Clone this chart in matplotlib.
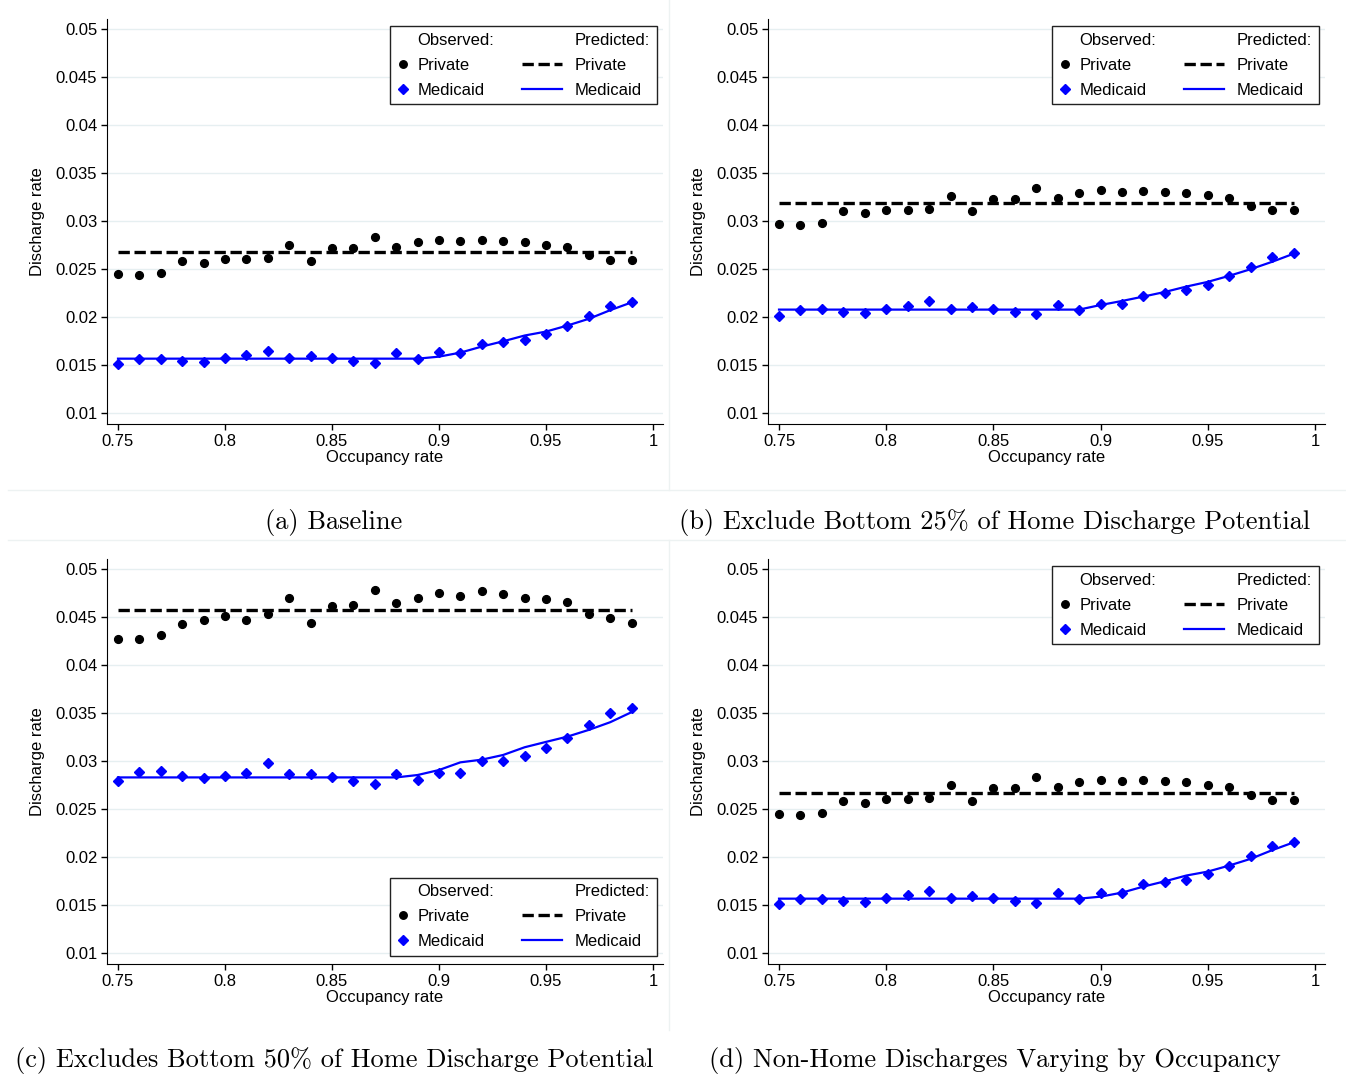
import numpy as np
import matplotlib
matplotlib.use('Agg')
import matplotlib.pyplot as plt
from matplotlib.lines import Line2D
from matplotlib.legend_handler import HandlerLine2D
from matplotlib.ticker import FuncFormatter

plt.rcParams['font.family'] = ['Liberation Sans', 'DejaVu Sans']

occ = [0.75, 0.76, 0.77, 0.78, 0.79, 0.80, 0.81, 0.82, 0.83, 0.84, 0.85, 0.86, 0.87,
       0.88, 0.89, 0.90, 0.91, 0.92, 0.93, 0.94, 0.95, 0.96, 0.97, 0.98, 0.99]

# (a) baseline
a_priv = [0.02451, 0.02437, 0.02462, 0.02587, 0.02563, 0.02601, 0.02601, 0.02615, 0.02747,
          0.02587, 0.02716, 0.02716, 0.02831, 0.02726, 0.02779, 0.02803, 0.02789, 0.02800,
          0.02789, 0.02782, 0.02754, 0.02726, 0.02643, 0.02598, 0.02594]
a_priv_hat = 0.02674
a_med = [0.01507, 0.01559, 0.01563, 0.01545, 0.01531, 0.01573, 0.01601, 0.01650, 0.01573,
         0.01594, 0.01573, 0.01545, 0.01517, 0.01622, 0.01563, 0.01632, 0.01625, 0.01716,
         0.01737, 0.01765, 0.01824, 0.01911, 0.02009, 0.02110, 0.02155]
a_med_hat = [0.01566, 0.01566, 0.01566, 0.01566, 0.01566, 0.01566, 0.01566, 0.01566, 0.01566,
             0.01566, 0.01566, 0.01566, 0.01566, 0.01566, 0.01566, 0.01587, 0.01629, 0.01692,
             0.01747, 0.01807, 0.01848, 0.01911, 0.01981, 0.02071, 0.02152]

# (b) exclude bottom 25%
b_priv = [0.02969, 0.02955, 0.02979, 0.03105, 0.03080, 0.03118, 0.03118, 0.03125, 0.03265,
          0.03105, 0.03230, 0.03230, 0.03348, 0.03240, 0.03293, 0.03321, 0.03303, 0.03314,
          0.03303, 0.03296, 0.03268, 0.03244, 0.03160, 0.03118, 0.03111]
b_priv_hat = 0.03188
b_med = [0.02014, 0.02070, 0.02080, 0.02056, 0.02045, 0.02087, 0.02112, 0.02164, 0.02087,
         0.02101, 0.02084, 0.02056, 0.02028, 0.02129, 0.02073, 0.02136, 0.02132, 0.02223,
         0.02247, 0.02279, 0.02338, 0.02422, 0.02519, 0.02620, 0.02662]
b_med_hat = [0.02077, 0.02077, 0.02077, 0.02077, 0.02077, 0.02077, 0.02077, 0.02077, 0.02077,
             0.02077, 0.02077, 0.02077, 0.02077, 0.02077, 0.02077, 0.02125, 0.02167, 0.02213,
             0.02261, 0.02317, 0.02366, 0.02429, 0.02498, 0.02575, 0.02659]

# (c) exclude bottom 50%
c_priv = [0.04267, 0.04274, 0.04312, 0.04427, 0.04469, 0.04510, 0.04472, 0.04535, 0.04699,
          0.04437, 0.04615, 0.04629, 0.04786, 0.04646, 0.04695, 0.04754, 0.04720, 0.04768,
          0.04744, 0.04702, 0.04685, 0.04657, 0.04531, 0.04493, 0.04441]
c_priv_hat = 0.04573
c_med = [0.02794, 0.02885, 0.02899, 0.02840, 0.02826, 0.02840, 0.02878, 0.02976, 0.02861,
         0.02861, 0.02836, 0.02791, 0.02760, 0.02864, 0.02805, 0.02875, 0.02871, 0.02997,
         0.03003, 0.03049, 0.03136, 0.03244, 0.03380, 0.03495, 0.03557]
c_med_hat = [0.02829, 0.02829, 0.02829, 0.02829, 0.02829, 0.02829, 0.02829, 0.02829, 0.02829,
             0.02829, 0.02829, 0.02829, 0.02829, 0.02829, 0.02854, 0.02906, 0.02986, 0.03014,
             0.03063, 0.03143, 0.03199, 0.03254, 0.03324, 0.03404, 0.03509]

# (d) non-home discharges varying by occupancy
d_priv = [0.02451, 0.02437, 0.02462, 0.02587, 0.02563, 0.02601, 0.02601, 0.02615, 0.02747,
          0.02587, 0.02716, 0.02716, 0.02831, 0.02726, 0.02779, 0.02803, 0.02789, 0.02800,
          0.02789, 0.02782, 0.02754, 0.02726, 0.02643, 0.02598, 0.02594]
d_priv_hat = 0.02667
d_med = [0.01507, 0.01559, 0.01563, 0.01545, 0.01531, 0.01573, 0.01601, 0.01650, 0.01573,
         0.01594, 0.01573, 0.01545, 0.01517, 0.01622, 0.01563, 0.01629, 0.01625, 0.01716,
         0.01737, 0.01765, 0.01824, 0.01911, 0.02009, 0.02110, 0.02155]
d_med_hat = a_med_hat

captions = ['(a) Baseline',
            '(b) Exclude Bottom 25% of Home Discharge Potential',
            '(c) Excludes Bottom 50% of Home Discharge Potential',
            '(d) Non-Home Discharges Varying by Occupancy']

xticks = [0.75, 0.8, 0.85, 0.9, 0.95, 1.0]
yticks = [0.01, 0.015, 0.02, 0.025, 0.03, 0.035, 0.04, 0.045, 0.05]

W, H = 1346, 1076
fig = plt.figure(figsize=(W / 100, H / 100), dpi=100)


class WideLine(HandlerLine2D):
    # draw the predicted-line key longer, reaching left into the column gap
    def get_xdata(self, legend, xdescent, ydescent, width, height, fontsize):
        x = np.array([-xdescent + width - 2.75 * fontsize, -xdescent + width - 0.35 * fontsize])
        return x, x


def panel(box, priv, priv_hat, med, med_hat, legend_loc):
    l, r, t, b = box
    ax = fig.add_axes([l / W, 1 - b / H, (r - l) / W, (b - t) / H])
    ax.plot([occ[0], occ[-1]], [priv_hat, priv_hat], color='black', lw=2.4,
            dashes=(3.4, 1.4), zorder=2)
    ax.plot(occ, med_hat, color='#0000ff', lw=1.6, zorder=2)
    ax.plot(occ, priv, ls='none', marker='o', ms=5.6, color='black', zorder=3)
    ax.plot(occ, med, ls='none', marker='D', ms=5.0, color='#0000ff', zorder=3)

    ax.set_xlim(0.75 - 11 / 2140, 1.0 + 10 / 2140)
    ax.set_ylim(0.01 - 11 / 9600, 0.05 + 10 / 9600)
    ax.set_xticks(xticks)
    ax.set_yticks(yticks)
    fmt = FuncFormatter(lambda v, p: '%g' % round(v, 4))
    ax.xaxis.set_major_formatter(fmt)
    ax.yaxis.set_major_formatter(fmt)
    ax.tick_params(labelsize=12, length=4, width=1, direction='out', pad=3)
    ax.spines['top'].set_visible(False)
    ax.spines['right'].set_visible(False)
    ax.yaxis.grid(True, color='#e6eff1', lw=1)
    ax.set_axisbelow(True)
    ax.set_xlabel('Occupancy rate', fontsize=12, labelpad=1)
    ax.set_ylabel('Discharge rate', fontsize=12, labelpad=8)

    blank = Line2D([], [], ls='none')
    h_priv = Line2D([], [], ls='none', marker='o', ms=5.4, color='black')
    h_med = Line2D([], [], ls='none', marker='D', ms=5.0, color='#0000ff')
    h_ppriv = Line2D([], [], color='black', lw=2.4, dashes=(3.4, 1.4))
    h_pmed = Line2D([], [], color='#0000ff', lw=1.6)
    handles = [blank, h_priv, h_med, blank, h_ppriv, h_pmed]
    labels = ['Observed:', 'Private', 'Medicaid', 'Predicted:', 'Private', 'Medicaid']
    if legend_loc == 'upper right':
        anchor = (0.989, 0.983)
    else:
        anchor = (0.989, 0.02)
    ax.legend(handles, labels, ncol=2, loc=legend_loc, bbox_to_anchor=anchor,
              borderaxespad=0, fontsize=12, handlelength=0.8, handletextpad=0.45,
              columnspacing=3.6, labelspacing=0.6, borderpad=0.4, numpoints=1,
              fancybox=False, framealpha=1, edgecolor='#222222',
              handler_map={h_ppriv: WideLine(), h_pmed: WideLine()})
    ax.get_legend().get_frame().set_linewidth(1)
    return ax


panel((107, 663, 19, 424), a_priv, a_priv_hat, a_med, a_med_hat, 'upper right')
panel((768, 1325, 19, 424), b_priv, b_priv_hat, b_med, b_med_hat, 'upper right')
panel((107, 663, 559, 964), c_priv, c_priv_hat, c_med, c_med_hat, 'lower right')
panel((768, 1325, 559, 964), d_priv, d_priv_hat, d_med, d_med_hat, 'upper right')

# faint borders of the sub-figures
faint = '#edf2f2'
for y in (490, 540):
    fig.add_artist(Line2D([8 / W, 1], [1 - y / H, 1 - y / H], transform=fig.transFigure,
                          color=faint, lw=1))
fig.add_artist(Line2D([669 / W, 669 / W], [1, 1 - 490 / H], transform=fig.transFigure,
                      color=faint, lw=1))
fig.add_artist(Line2D([669 / W, 669 / W], [1 - 540 / H, 1 - 1030 / H],
                      transform=fig.transFigure, color=faint, lw=1))

cap_pos = [(334, 522), (995, 522), (334, 1061), (995, 1061)]
for txt, (cx, cy) in zip(captions, cap_pos):
    fig.text(cx / W, 1 - cy / H, txt, ha='center', va='center', fontsize=19,
             family=['cmr10', 'DejaVu Serif'])

fig.savefig('out.png', dpi=100)
